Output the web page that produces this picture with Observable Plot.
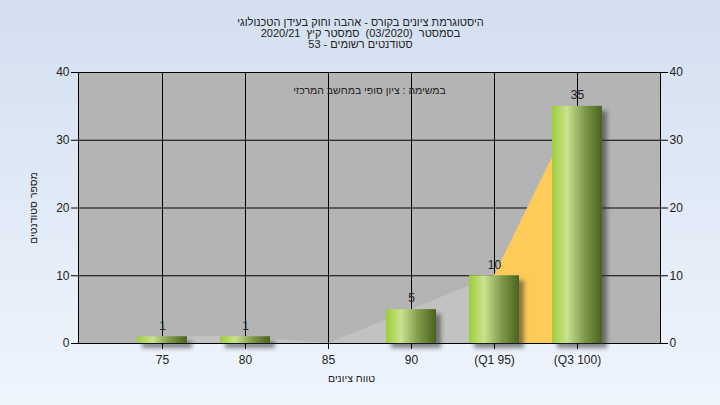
<!DOCTYPE html>
<html>
<head>
<meta charset="utf-8">
<script src="https://cdn.jsdelivr.net/npm/d3@7"></script>
<script src="https://cdn.jsdelivr.net/npm/@observablehq/plot@0.6"></script>
<style>
  html, body { margin: 0; padding: 0; }
  body { width: 720px; height: 405px; background: linear-gradient(#d3dff0, #eff5fd); overflow: hidden; }
  svg { display: block; }
</style>
</head>
<body>
<div id="chart"></div>
<script>
const categories = ["75", "80", "85", "90", "(Q1 95)", "(Q3 100)"];
const counts = [1, 1, 0, 5, 10, 35];
const yTicks = [0, 10, 20, 30, 40];
const quartileRange = ["(Q1 95)", "(Q3 100)"];
const titleLines = [
  "היסטוגרמת ציונים בקורס - אהבה וחוק בעידן הטכנולוגי",
  "בסמסטר  (03/2020)  סמסטר קיץ  2020/21",
  "סטודנטים רשומים - 53"
];
const innerTitle = "במשימה : ציון סופי במחשב המרכזי";
const xLabel = "טווח ציונים";
const yLabel = "מספר סטודנטים";

const data = categories.map((c, i) => ({cat: c, v: counts[i]}));
const qData = data.filter(d => quartileRange.includes(d.cat));
const barData = data.filter(d => d.v > 0);
const font = "Liberation Sans, Arial, sans-serif";

const chart = Plot.plot({
  width: 720,
  height: 405,
  marginLeft: 78,
  marginRight: 60,
  marginTop: 72,
  marginBottom: 62,
  style: {background: "transparent", fontFamily: font, fontSize: "12px", color: "#222", overflow: "visible"},
  x: {type: "band", domain: categories, paddingInner: 0.4, paddingOuter: 0.7, label: null, axis: null},
  y: {domain: [0, 40], ticks: yTicks, label: null, axis: null},
  marks: [
    Plot.frame({fill: "#b4b4b4", stroke: null}),
    Plot.ruleY(yTicks, {stroke: "#000", strokeWidth: 1}),
    Plot.ruleX(categories, {x: d => d, y1: 0, y2: 40, stroke: "#000", strokeWidth: 1}),
    Plot.areaY(data, {x: "cat", y: "v", fill: "#c2c2c2", curve: "linear"}),
    Plot.areaY(qData, {x: "cat", y: "v", fill: "#fecb58", curve: "linear"}),
    Plot.frame({stroke: "#000", fill: null}),
    Plot.barY(barData, {x: "cat", y: "v", fill: "#303030", fillOpacity: 0.55, dx: 5, dy: 5, ariaLabel: "shadow"}),
    Plot.barY(barData, {x: "cat", y: "v", fill: "url(#barGrad)", ariaLabel: "bars"}),
    Plot.text(barData, {x: "cat", y: "v", text: d => String(d.v), dy: -11, fill: "#222", fontSize: 12}),
    // axes
    Plot.axisY({ticks: yTicks, anchor: "left", tickSize: 7, tickPadding: 2, fontSize: 12, stroke: "#000", color: "#222", label: null}),
    Plot.axisY({ticks: yTicks, anchor: "right", tickSize: 7, tickPadding: 2, fontSize: 12, stroke: "#000", color: "#222", label: null}),
    Plot.axisX({anchor: "bottom", tickSize: 6, tickPadding: 6, fontSize: 12, stroke: "#000", color: "#222", label: null}),
    // titles
    Plot.text([titleLines[0]], {text: d => d, frameAnchor: "top", dx: -9, dy: -54, fontSize: 11, fill: "#222"}),
    Plot.text([titleLines[1]], {text: d => d, frameAnchor: "top", dx: -9, dy: -43, fontSize: 11, fill: "#222"}),
    Plot.text([titleLines[2]], {text: d => d, frameAnchor: "top", dx: -9, dy: -32, fontSize: 11, fill: "#222"}),
    Plot.text([innerTitle], {text: d => d, frameAnchor: "top", dy: 14, fontSize: 10.5, fill: "#222"}),
    Plot.text([xLabel], {text: d => d, frameAnchor: "bottom", dx: -18, dy: 38, fontSize: 10.5, fill: "#222"}),
    Plot.text([yLabel], {text: d => d, frameAnchor: "left", textAnchor: "middle", dx: -45, dy: 0, rotate: -90, fontSize: 10.5, fill: "#222"})
  ]
});

const svg = d3.select(chart);
const defs = svg.insert("defs", ":first-child");
const g = defs.append("linearGradient").attr("id", "barGrad").attr("x1", "0").attr("x2", "1").attr("y1", "0").attr("y2", "0");
g.append("stop").attr("offset", "0%").attr("stop-color", "#9ccd3a");
g.append("stop").attr("offset", "30%").attr("stop-color", "#c9e38f");
g.append("stop").attr("offset", "65%").attr("stop-color", "#7f9a4c");
g.append("stop").attr("offset", "100%").attr("stop-color", "#4a621e");
const f = defs.append("filter").attr("id", "blur").attr("x", "-50%").attr("y", "-50%").attr("width", "200%").attr("height", "200%");
f.append("feGaussianBlur").attr("stdDeviation", 2);
let shadowG = svg.select('g[aria-label="shadow"]');
if (shadowG.empty()) shadowG = svg.select('g[aria-label="bar"]');
shadowG.attr("filter", "url(#blur)");
document.getElementById("chart").appendChild(chart);
</script>
</body>
</html>
